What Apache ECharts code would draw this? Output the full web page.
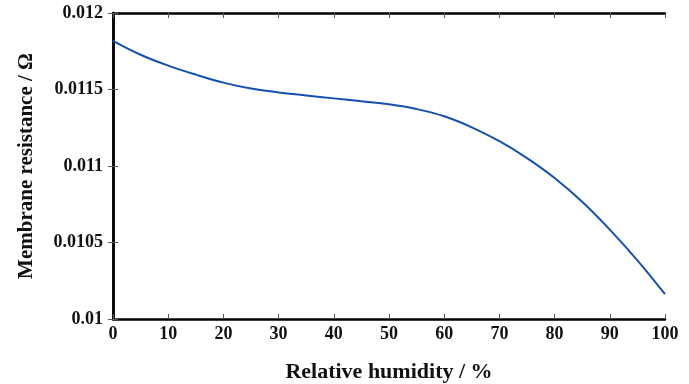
<!DOCTYPE html>
<html><head><meta charset="utf-8">
<script src="https://cdn.jsdelivr.net/npm/echarts@6/dist/echarts.min.js"></script>
<style>html,body{margin:0;padding:0;background:#fff}#c{width:689px;height:384px}</style>
</head><body><div id="c"></div>
<script>
const humidity = [0, 5, 10, 15, 20, 25, 30, 35, 40, 45, 50, 55, 60, 65, 70, 75, 80, 85, 90, 95, 100];
const resistance = [0.011818, 0.011727, 0.011656, 0.011597, 0.011545, 0.011506, 0.011481, 0.011461, 0.011442, 0.011423, 0.011403, 0.011372, 0.011325, 0.011253, 0.011162, 0.011052, 0.010922, 0.010766, 0.010584, 0.010383, 0.010162];
const xTicks = [0, 100, 10];
const yTicks = [0.01, 0.012, 0.0005];
const font = '"Liberation Serif", "Times New Roman", serif';
const chart = echarts.init(document.getElementById('c'));
const axLine = {show: true, lineStyle: {color: '#000', width: 2.5}};
const tick = {show: true, inside: true, length: 5, lineStyle: {color: '#555', width: 1}};
chart.setOption({
  animation: false,
  grid: {left: 113, right: 24, top: 13, bottom: 65, containLabel: false, outerBoundsMode: 'none'},
  xAxis: [{
    type: 'value', min: xTicks[0], max: xTicks[1], interval: xTicks[2],
    name: 'Relative humidity / %', nameLocation: 'middle', nameGap: 42,
    nameTextStyle: {fontFamily: font, fontWeight: 'bold', fontSize: 22, color: '#111'},
    axisLine: axLine, axisTick: tick, splitLine: {show: false},
    axisLabel: {fontFamily: font, fontWeight: 'bold', fontSize: 18, color: '#111', margin: 6}
  }, {
    type: 'value', position: 'top', min: xTicks[0], max: xTicks[1], interval: xTicks[2],
    axisLine: axLine, axisTick: tick, axisLabel: {show: false}, splitLine: {show: false}
  }],
  yAxis: [{
    type: 'value', min: yTicks[0], max: yTicks[1], interval: yTicks[2],
    name: 'Membrane resistance / Ω', nameLocation: 'middle', nameGap: 76,
    nameTextStyle: {fontFamily: font, fontWeight: 'bold', fontSize: 21, color: '#111'},
    axisLine: axLine, axisTick: tick, splitLine: {show: false},
    axisLabel: {fontFamily: font, fontWeight: 'bold', fontSize: 18, color: '#111', margin: 10}
  }, {
    type: 'value', position: 'right', min: yTicks[0], max: yTicks[1], interval: yTicks[2],
    axisLine: axLine, axisTick: tick, axisLabel: {show: false}, splitLine: {show: false}
  }],
  series: [{
    type: 'line', smooth: 0.4, showSymbol: false,
    data: humidity.map((h, i) => [h, resistance[i]]),
    lineStyle: {color: '#1450b4', width: 2}
  }]
});
</script></body></html>
